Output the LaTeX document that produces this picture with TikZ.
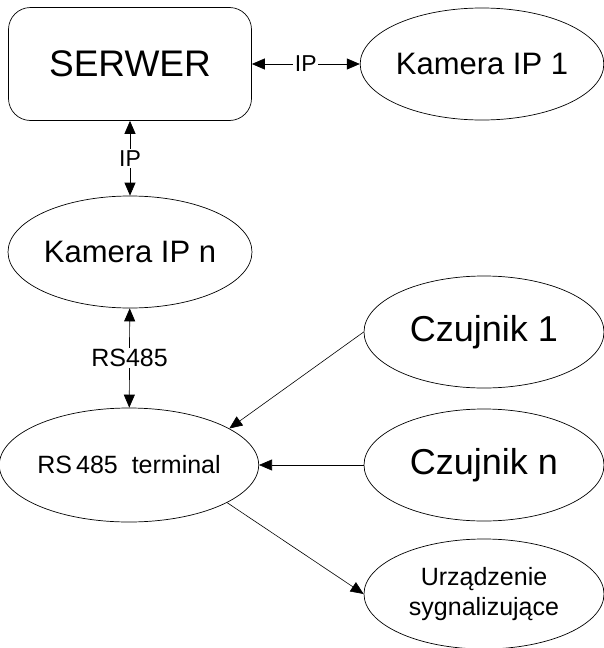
\documentclass[tikz,border=0pt]{standalone}
\usepackage{fontspec}
\setmainfont{Liberation Sans}
\usetikzlibrary{arrows.meta,shapes.geometric}

\newcommand{\fs}[1]{\fontsize{#1}{1.2\dimexpr#1pt\relax}\selectfont}

\begin{document}
\begin{tikzpicture}[>={Triangle[length=13pt,width=11pt]}, x=1pt, y=-1pt,
  line width=0.7pt,
  oval/.style={draw, ellipse, inner sep=0pt, minimum width=240pt, minimum height=112pt},
  link/.style={fill=white, inner sep=1.5pt, font=\fs{23}}]

\useasboundingbox (0,0) rectangle (603,648);

\node[draw, rounded corners=22pt, minimum width=243pt, minimum height=113pt, font=\fs{37}] (serwer) at (130,64) {SERWER};
\node[oval, font=\fs{31}] (kam1) at (482,64) {Kamera IP 1};
\node[oval, minimum width=244pt, font=\fs{31}] (kamn) at (130,252) {Kamera IP n};
\node[oval, minimum width=242pt, minimum height=114pt, font=\fs{25}] (term) at (129,465) {RS\,485\ \ terminal};

\node[oval, font=\fs{36}] (czuj1) at (484,332) {Czujnik 1};
\node[oval, font=\fs{36}] (czujn) at (484,465) {Czujnik n};
\node[oval, minimum height=110pt, align=center, font=\fs{25}] (urz) at (484,594) {Urządzenie\\sygnalizujące};

\draw[<->] (serwer) -- node[link] {IP} (kam1);
\draw[<->] (serwer) -- node[link] {IP} (kamn);
\draw[<->] (kamn) -- node[link, font=\fs{25}] {RS485} (term);

\draw[->, line width=0.6pt] (czuj1.west) -- (term.20);
\draw[->, line width=0.6pt] (czujn.west) -- (term.east);
\draw[->, line width=0.6pt] (term.-21) -- (urz.west);

\end{tikzpicture}
\end{document}
